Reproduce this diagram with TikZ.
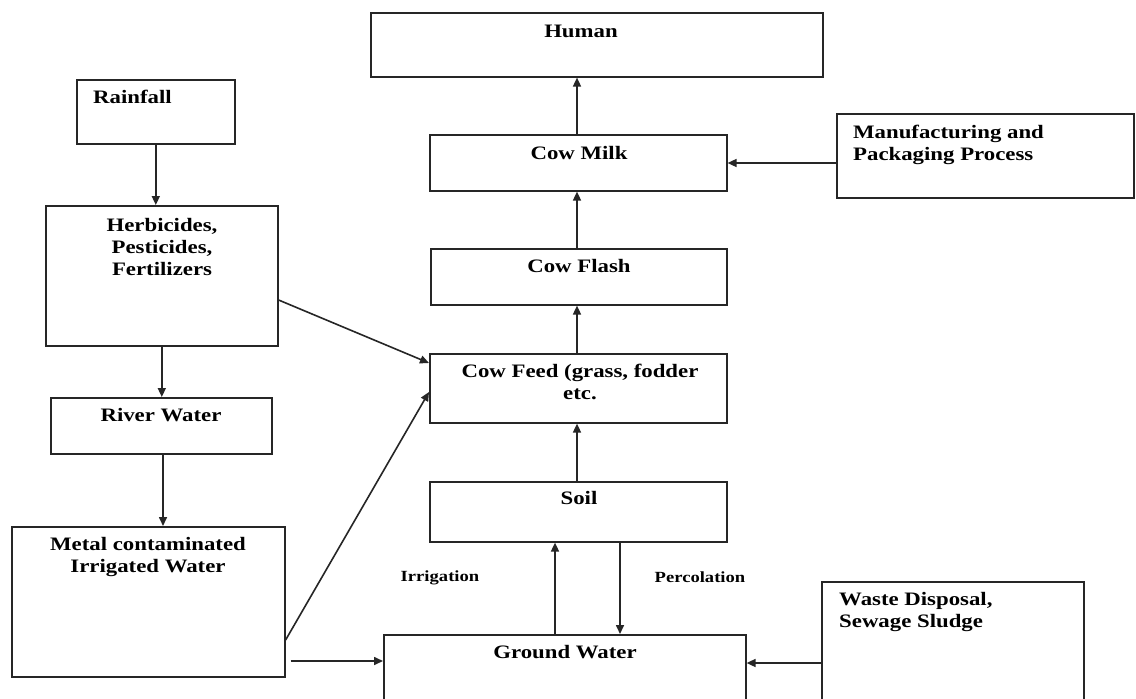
\documentclass[tikz,border=0pt]{standalone}
\usepackage{fontspec}
\setmainfont{Liberation Serif}[FakeStretch=1.2]
\usetikzlibrary{arrows.meta}
\begin{document}
\begin{tikzpicture}[x=1pt,y=-1pt,
  box/.style={draw=black!85, line width=1.6pt, anchor=north west, inner sep=0pt},
  txt/.style={inner sep=0pt, anchor=base, align=center, font=\bfseries\fontsize{19}{22}\selectfont},
  ltxt/.style={inner sep=0pt, anchor=base west, align=left, font=\bfseries\fontsize{19}{22}\selectfont},
  lbl/.style={inner sep=0pt, font=\bfseries\fontsize{15.5}{18}\selectfont},
  arr/.style={draw=black!85, line width=1.6pt, -{Triangle[length=9pt,width=8pt]}}]
\useasboundingbox (0,0) rectangle (1136,699);
\fill[white] (0,0) rectangle (1136,699);
% boxes
\node[box, minimum width=452pt, minimum height=64pt] (human) at (370,12) {};
\node[box, minimum width=297pt, minimum height=56pt] (cowmilk) at (429,134) {};
\node[box, minimum width=297pt, minimum height=84pt] (manuf) at (836,113) {};
\node[box, minimum width=296pt, minimum height=56pt] (cowflash) at (430,248) {};
\node[box, minimum width=297pt, minimum height=69pt] (cowfeed) at (429,353) {};
\node[box, minimum width=297pt, minimum height=60pt] (soil) at (429,481) {};
\node[box, minimum width=362pt, minimum height=80pt] (gw) at (383,634) {};
\node[box, minimum width=262pt, minimum height=130pt] (waste) at (821,581) {};
\node[box, minimum width=158pt, minimum height=64pt] (rain) at (76,79) {};
\node[box, minimum width=232pt, minimum height=140pt] (herb) at (45,205) {};
\node[box, minimum width=221pt, minimum height=56pt] (river) at (50,397) {};
\node[box, minimum width=273pt, minimum height=150pt] (metal) at (11,526) {};
% texts (base anchor = last line's baseline)
\node[txt] (thuman) at (581,37) {Human};
\node[txt] (tcowmilk) at (579,159) {Cow Milk};
\node[ltxt] (tmanuf) at (853,160) {Manufacturing and\\Packaging Process};
\node[txt] (tcowflash) at (579,272) {Cow Flash};
\node[txt] (tcowfeed) at (580,399) {Cow Feed (grass, fodder\\etc.};
\node[txt] (tsoil) at (579,504) {Soil};
\node[txt] (tgw) at (565,658) {Ground Water};
\node[ltxt] (twaste) at (839,627) {Waste Disposal,\\Sewage Sludge};
\node[ltxt] (train) at (93,103) {Rainfall};
\node[txt] (therb) at (162,275) {Herbicides,\\Pesticides,\\Fertilizers};
\node[txt] (triver) at (161,421) {River Water};
\node[txt] (tmetal) at (148,572) {Metal contaminated\\Irrigated Water};
\node[lbl] (lirr) at (440,578) {Irrigation};
\node[lbl] (lperc) at (700,577) {Percolation};
% helper coordinates
\coordinate (cx) at (577,0);
\coordinate (irrx) at (555,0);
\coordinate (percx) at (620,0);
\coordinate (rx) at (163,0);
\coordinate (my) at (0,163);
\coordinate (wy) at (0,663);
\coordinate (gy) at (0,661);
\coordinate (herby) at (0,300);
\coordinate (feedy1) at (0,363);
\coordinate (metaly) at (0,640);
\coordinate (feedy2) at (0,392);
% connectors
\draw[arr] (cowmilk.north -| cx) -- (human.south -| cx);
\draw[arr] (manuf.west |- my) -- (cowmilk.east |- my);
\draw[arr] (cowflash.north -| cx) -- (cowmilk.south -| cx);
\draw[arr] (cowfeed.north -| cx) -- (cowflash.south -| cx);
\draw[arr] (soil.north -| cx) -- (cowfeed.south -| cx);
\draw[arr] (gw.north -| irrx) -- (soil.south -| irrx);
\draw[arr] (soil.south -| percx) -- (gw.north -| percx);
\draw[arr] (waste.west |- wy) -- (gw.east |- wy);
\draw[arr, shorten <=5pt] (metal.east |- gy) -- (gw.west |- gy);
\draw[arr] (metal.east |- metaly) -- (cowfeed.west |- feedy2);
\draw[arr] (herb.east |- herby) -- (cowfeed.west |- feedy1);
\draw[arr] (rain.south) -- (herb.north -| rain.south);
\draw[arr] (herb.south) -- (river.north -| herb.south);
\draw[arr] (river.south -| rx) -- (metal.north -| rx);
\end{tikzpicture}
\end{document}
